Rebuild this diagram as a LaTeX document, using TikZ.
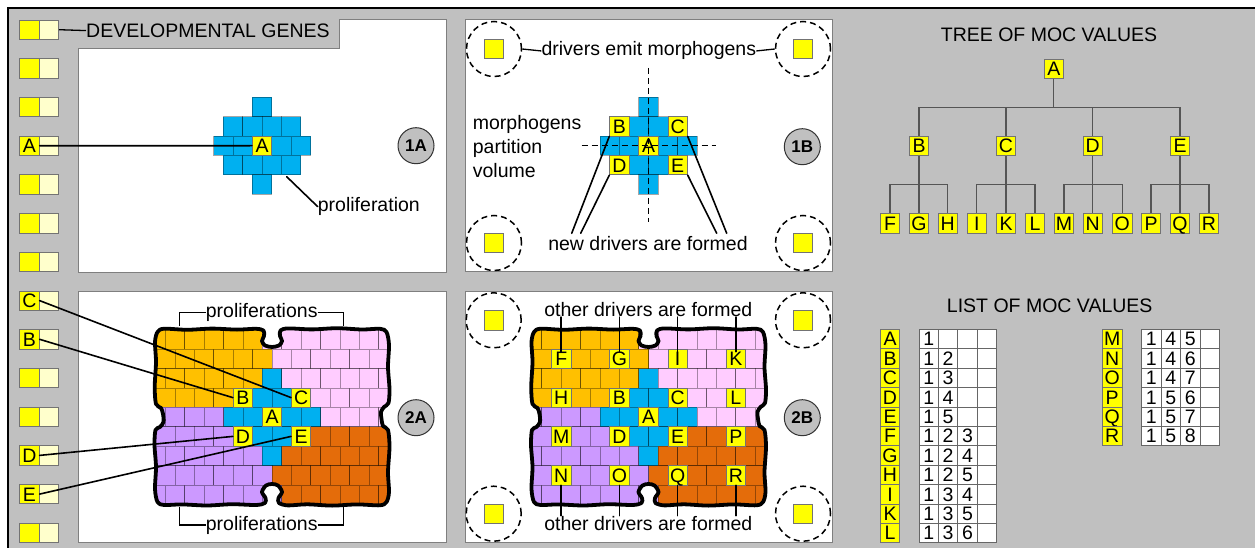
\documentclass[tikz,border=0pt]{standalone}
\usepackage{fontspec}
\setmainfont{Liberation Sans}
\usetikzlibrary{calc}
\definecolor{bgc}{HTML}{C0C0C0}
\definecolor{yel}{HTML}{FFFF00}
\definecolor{lyel}{HTML}{FFFFCC}
\definecolor{cB}{HTML}{00B0F0}
\definecolor{cO}{HTML}{FFC000}
\definecolor{cP}{HTML}{FFCCFF}
\definecolor{cU}{HTML}{CC99FF}
\definecolor{cD}{HTML}{E46C0A}
\definecolor{edgec}{HTML}{7F7F7F}
\definecolor{treeline}{HTML}{555555}
\tikzset{
  txt/.style={font=\fontsize{19.5}{23}\selectfont, inner sep=0pt},
  ltxt/.style={inner sep=0pt, text height=13.9pt, text depth=0pt, font=\fontsize{19.5}{23}\selectfont},
  cellr/.style={draw=black, draw opacity=0.35, line width=0.8pt},
  lab/.style={fill=yel, draw=black!55, line width=0.8pt, minimum size=19.4pt, inner sep=0pt, text height=13.9pt, text depth=0pt, font=\fontsize{19.5}{23}\selectfont},
  gbox/.style={lab},
  gboxl/.style={lab, fill=lyel},
  panel/.style={fill=white, draw=edgec, line width=1pt},
  conn/.style={line width=1.6pt, line cap=round},
  thin/.style={line width=1.3pt},
  plabel/.style={circle, fill=bgc, draw=black!80, line width=1pt, minimum size=36pt, inner sep=0pt, font=\fontsize{17}{17}\bfseries\selectfont},
  dcirc/.style={circle, draw=black, dash pattern=on 6pt off 4pt, line width=1.5pt, minimum size=55pt, inner sep=0pt},
  drv/.style={fill=yel, draw=black!55, line width=0.8pt, minimum size=19.4pt, inner sep=0pt},
  xline/.style={dash pattern=on 6pt off 4pt, line width=1.5pt},
  tline/.style={draw=treeline, line width=1.3pt},
  tcell/.style={fill=white, draw=black!60, line width=0.8pt, minimum size=19.4pt, inner sep=0pt, text height=13.9pt, text depth=0pt, font=\fontsize{19.5}{23}\selectfont},
  blobline/.style={line width=3.8pt, line join=round},
}
\newcommand\blobpath{plot[smooth cycle, tension=0.5] coordinates {
 (-108,-88.3) (-85,-87.2) (-60,-88.4) (-35,-87.4) (-16,-88.2)
 (-8.5,-86.5) (-8,-81) (-10,-76) (-7,-71.5) (0,-70) (7,-71.5) (10,-76) (8,-81) (8.5,-86.5)
 (16,-88.6) (40,-87.6) (65,-88.8) (90,-87.5) (108,-88.2)
 (114.5,-85)
 (117,-72) (116,-50) (117.5,-28) (116.5,-14)
 (112,-10) (109,-5) (109.5,2) (111,9) (116,13)
 (117.5,30) (116,55) (117,75) (114.5,85)
 (108,88.3) (85,87.4) (60,88.6) (35,87.3) (16,88.4)
 (7,86) (6.5,81) (10,75) (6,68.5) (0,67) (-6,68.5) (-10,75) (-6.5,81) (-7,86)
 (-16,88) (-40,87.2) (-65,88.5) (-90,87.4) (-108,88)
 (-114.5,85)
 (-117,72) (-116,50) (-117.5,28) (-116.5,13)
 (-112,10) (-108.5,5) (-109,-3) (-111,-9) (-116,-13)
 (-117.3,-30) (-116,-55) (-117,-75) (-114.5,-85)}}
\newcommand\blobrowA[2]{\foreach \c [count=\i from -6] in {#2}{\path[cellr, fill=\c] ({19.4*\i-9.7},{19.4*(#1)-9.7}) rectangle ++(19.4,19.4);}}
\newcommand\blobrowB[2]{\foreach \c [count=\i from -6] in {#2}{\path[cellr, fill=\c] ({19.4*\i},{19.4*(#1)-9.7}) rectangle ++(19.4,19.4);}}
\newcommand\blobcells{%
 \blobrowA{-4}{cO,cO,cO,cO,cO,cO,cP,cP,cP,cP,cP,cP,cP}
 \blobrowB{-3}{cO,cO,cO,cO,cO,cO,cP,cP,cP,cP,cP,cP}
 \blobrowA{-2}{cO,cO,cO,cO,cO,cO,cB,cP,cP,cP,cP,cP,cP}
 \blobrowB{-1}{cO,cO,cO,cO,cB,cB,cB,cB,cP,cP,cP,cP}
 \blobrowA{0}{cU,cU,cU,cU,cB,cB,cB,cB,cB,cP,cP,cP,cP}
 \blobrowB{1}{cU,cU,cU,cU,cB,cB,cB,cB,cD,cD,cD,cD}
 \blobrowA{2}{cU,cU,cU,cU,cU,cU,cB,cD,cD,cD,cD,cD,cD}
 \blobrowB{3}{cU,cU,cU,cU,cU,cU,cD,cD,cD,cD,cD,cD}
 \blobrowA{4}{cU,cU,cU,cU,cU,cU,cU,cD,cD,cD,cD,cD,cD}}
\newcommand\minicells{%
 \path[cellr, fill=cB] (-9.7,-48.5) rectangle ++(19.4,19.4);
 \foreach \j in {-2,...,1} {\path[cellr, fill=cB] ({19.4*\j},-29.1) rectangle ++(19.4,19.4);}
 \foreach \k in {-2,...,2} {\path[cellr, fill=cB] ({19.4*\k-9.7},-9.7) rectangle ++(19.4,19.4);}
 \foreach \j in {-2,...,1} {\path[cellr, fill=cB] ({19.4*\j},9.7) rectangle ++(19.4,19.4);}
 \path[cellr, fill=cB] (-9.7,29.1) rectangle ++(19.4,19.4);}
\begin{document}
\begin{tikzpicture}[x=1pt,y=-1pt]
\useasboundingbox (0,0) rectangle (1255,548);
\fill[white] (0,0) rectangle (1255,548);
\fill[bgc] (8,8) rectangle (1255,548);
\draw[line width=1.3pt] (8,548) -- (8,8) -- (1255,8);
% panels
\draw[panel] (78,49) -- (339,49) -- (339,20) -- (446,20) -- (446,272) -- (78,272) -- cycle;
\draw[panel] (465,20) rectangle (832,271);
\draw[panel] (78,291) rectangle (446,542);
\draw[panel] (465,291) rectangle (832,542);
% gene strip
\foreach \i in {0,...,13} {
  \node[gbox] (g\i) at (29.5,{29.7+38.7*\i}) {};
  \node[gboxl] (h\i) at (48.9,{29.7+38.7*\i}) {};
}
\node[ltxt] (gtA) at (g3) {A};
\node[ltxt] (gtC) at (g7) {C};
\node[ltxt] (gtB) at (g8) {B};
\node[ltxt] (gtD) at (g11) {D};
\node[ltxt] (gtE) at (g12) {E};
\node[txt, anchor=base west] (dg) at (86,37.3) {DEVELOPMENTAL GENES};
\draw[thin] (h0.east) -- (dg.west);
% panel 1A
\begin{scope}[shift={(262,145.7)}] \minicells \end{scope}
\node[lab] (A1a) at (262,145.7) {A};
\node[txt, anchor=base west] (prol) at (317.7,211.7) {proliferation};
\coordinate (pa) at (286.7,176.7);
\draw[conn] (pa) -- (prol.west);
\draw[conn] (g3.east) -- (A1a.west);
\node[plabel] (l1a) at (416,145.7) {1A};
% panel 1B
\begin{scope}[shift={(648.5,145.7)}] \minicells \end{scope}
\node[lab] (A1b) at (648.5,145.7) {A};
\node[lab] (B1b) at (619.4,126.3) {B};
\node[lab] (C1b) at (677.6,126.3) {C};
\node[lab] (D1b) at (619.4,165.1) {D};
\node[lab] (E1b) at (677.6,165.1) {E};
\foreach \n/\x/\y in {1/494/49, 2/803/49, 3/494/243, 4/803/243} {
  \node[dcirc] (dc\n) at (\x,\y) {};
  \node[drv] (dq\n) at (\x,\y) {};
}
\node[txt, anchor=base] (emit) at (648.8,56) {drivers emit morphogens};
\draw[thin] (dc1.east) -- (emit.west);
\draw[thin] (emit.east) -- (dc2.west);
\node[txt, anchor=base west] (mp1) at (472.7,129.3) {morphogens};
\node[txt, anchor=base west] (mp2) at (472.7,153.3) {partition};
\node[txt, anchor=base west] (mp3) at (472.7,177.3) {volume};
\coordinate (vt) at (648.3,68);
\coordinate (vb) at (648.3,222);
\coordinate (hl) at (581.7,145.5);
\coordinate (hr) at (716,145.5);
\draw[xline] (vt) -- (vb);
\draw[xline] (hl) -- (hr);
\node[txt, anchor=base] (nd) at (648,250) {new drivers are formed};
\coordinate (nb1) at (571.7,233.3);
\coordinate (nb2) at (580.7,233.3);
\coordinate (nb3) at (716.7,233.3);
\coordinate (nb4) at (726.7,233.3);
\draw[conn] (B1b.south west) -- (nb1);
\draw[conn] (D1b.south west) -- (nb2);
\draw[conn] (E1b.south east) -- (nb3);
\draw[conn] (C1b.south east) -- (nb4);
\node[plabel] (l1b) at (802.3,146.7) {1B};
% panel 2A
\begin{scope}[shift={(272,417)}]
  \begin{scope} \clip \blobpath; \blobcells \end{scope}
  \draw[blobline] \blobpath;
\end{scope}
\node[lab] (A2a) at (272,417) {A};
\node[lab] (B2a) at (242.9,397.6) {B};
\node[lab] (C2a) at (301.1,397.6) {C};
\node[lab] (D2a) at (242.9,436.4) {D};
\node[lab] (E2a) at (301.1,436.4) {E};
\draw[conn] (g7.east) -- (C2a.west);
\draw[conn] (g8.east) -- (B2a.west);
\draw[conn] (g11.east) -- (D2a.west);
\draw[conn] (g12.east) -- (E2a.west);
\node[txt, anchor=base] (pt) at (261.7,317.3) {proliferations};
\draw[thin] (pt.west) -- ++(-26,0) -- ++(0,14);
\draw[thin] (pt.east) -- ++(26,0) -- ++(0,14);
\node[txt, anchor=base] (pb) at (261.7,530) {proliferations};
\draw[thin] (pb.west) -- ++(-26,0) -- ++(0,-18);
\draw[thin] (pb.east) -- ++(26,0) -- ++(0,-18);
\node[plabel] (l2a) at (416,417.7) {2A};
% panel 2B
\begin{scope}[shift={(648.5,417)}]
  \begin{scope} \clip \blobpath; \blobcells \end{scope}
  \draw[blobline] \blobpath;
\end{scope}
\node[lab] (A2b) at (648.5,417) {A};
\foreach \n/\x/\y in {F/561.2/358.8, G/619.4/358.8, I/677.6/358.8, K/735.8/358.8,
                     H/561.2/397.6, B/619.4/397.6, C/677.6/397.6, L/735.8/397.6,
                     M/561.2/436.4, D/619.4/436.4, E/677.6/436.4, P/735.8/436.4,
                     N/561.2/475.2, O/619.4/475.2, Q/677.6/475.2, R/735.8/475.2} {
  \node[lab] (\n2b) at (\x,\y) {\n};
}
\foreach \n/\x/\y in {1/493.7/320.3, 2/803/320.3, 3/493.7/513.7, 4/803/513.7} {
  \node[dcirc] (ec\n) at (\x,\y) {};
  \node[drv] (eq\n) at (\x,\y) {};
}
\node[txt, anchor=base] (ot) at (648.3,316.7) {other drivers are formed};
\node[txt, anchor=base] (ob) at (648.3,530) {other drivers are formed};
\foreach \n in {F,G,I,K} {\draw[conn] (\n2b.north |- ot.south) -- ($(\n2b.north)+(0,3)$);}
\foreach \n in {N,O,Q,R} {\draw[conn] (\n2b.south) -- (\n2b.south |- ob.north);}
\node[plabel] (l2b) at (802.3,417.7) {2B};
% tree
\node[txt, anchor=base] (tt) at (1049,41.7) {TREE OF MOC VALUES};
\node[lab] (tA) at (1053.8,68.7) {A};
\foreach \n/\x in {B/919, C/1006, D/1092.7, E/1180} {\node[lab] (t\n) at (\x,146) {\n};}
\foreach \n/\x in {F/890, G/919, H/947.7, I/976.7, K/1006, L/1035, M/1064, N/1092.7, O/1122.3, P/1151, Q/1180, R/1209} {\node[lab] (t\n) at (\x,223.3) {\n};}
\foreach \n in {B,C,D,E} {\draw[tline] (tA.south) -- ++(0,29) -| (t\n.north);}
\foreach \p/\a/\b/\c in {B/F/G/H, C/I/K/L, D/M/N/O, E/P/Q/R} {
  \draw[tline] (t\p.south) -- ++(0,28.6) -| (t\a.north);
  \draw[tline] (t\p.south) -- (t\b.north);
  \draw[tline] (t\p.south) -- ++(0,28.6) -| (t\c.north);
}
% list
\node[txt, anchor=base] (lt) at (1049.7,312.7) {LIST OF MOC VALUES};
\foreach \t/\a/\b/\c [count=\i from 0] in {A/1//, B/1/2/, C/1/3/, D/1/4/, E/1/5/, F/1/2/3, G/1/2/4, H/1/2/5, I/1/3/4, K/1/3/5, L/1/3/6} {
  \node[lab] (ll\t) at (890,{339+19.4*\i}) {\t};
  \node[tcell] (lv\t1) at (928.7,{339+19.4*\i}) {\a};
  \node[tcell] (lv\t2) at (948.1,{339+19.4*\i}) {\b};
  \node[tcell] (lv\t3) at (967.5,{339+19.4*\i}) {\c};
  \node[tcell] (lv\t4) at (986.9,{339+19.4*\i}) {};
}
\foreach \t/\a/\b/\c [count=\i from 0] in {M/1/4/5, N/1/4/6, O/1/4/7, P/1/5/6, Q/1/5/7, R/1/5/8} {
  \node[lab] (ll\t) at (1112.2,{339+19.4*\i}) {\t};
  \node[tcell] (lv\t1) at (1151.4,{339+19.4*\i}) {\a};
  \node[tcell] (lv\t2) at (1170.8,{339+19.4*\i}) {\b};
  \node[tcell] (lv\t3) at (1190.2,{339+19.4*\i}) {\c};
  \node[tcell] (lv\t4) at (1209.6,{339+19.4*\i}) {};
}
\end{tikzpicture}
\end{document}
